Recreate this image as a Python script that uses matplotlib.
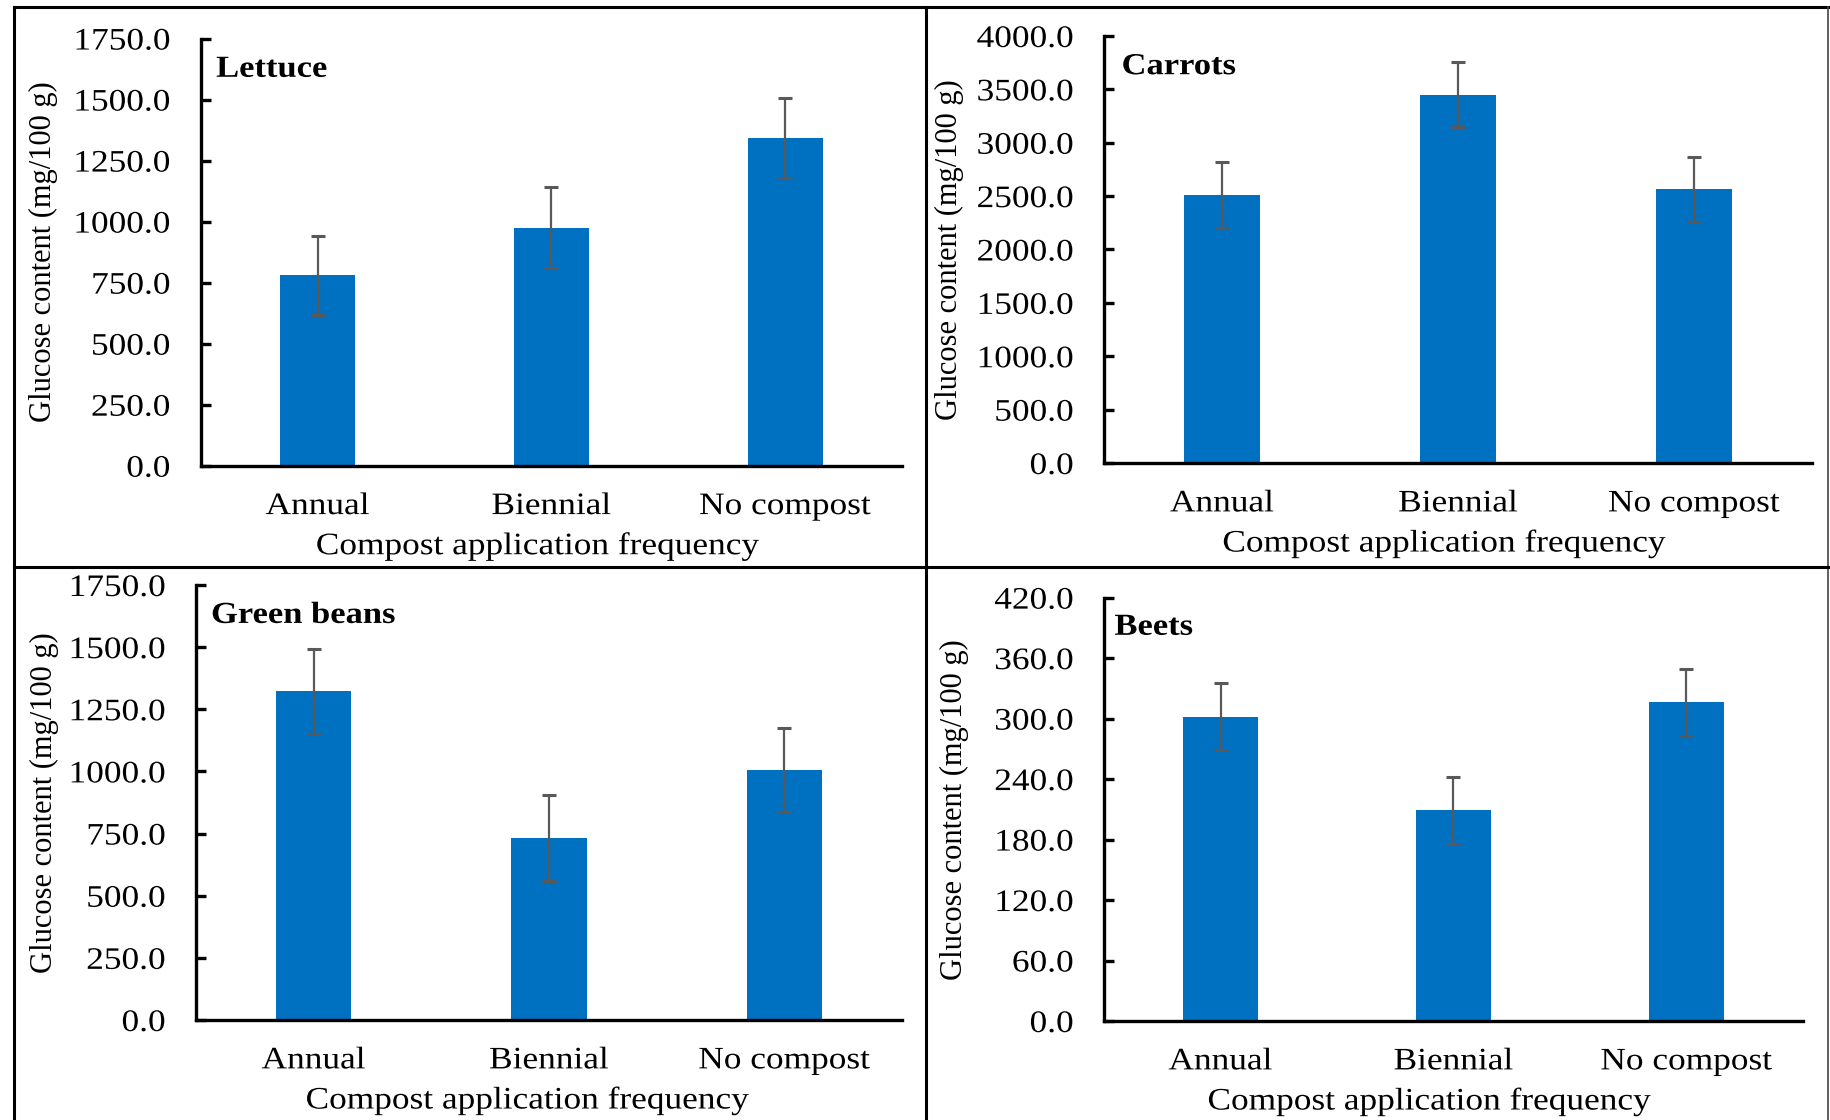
import matplotlib
matplotlib.use("Agg")
import matplotlib.pyplot as plt
from matplotlib.lines import Line2D
from matplotlib.patheffects import AbstractPathEffect
from matplotlib.transforms import Affine2D

plt.rcParams['font.family'] = ['Liberation Serif', 'DejaVu Serif']

# Data
categories = ["Annual", "Biennial", "No compost"]

lettuce_mean = [781, 975, 1342]
lettuce_err = [162, 166, 165]

carrots_mean = [2512, 3450, 2562]
carrots_err = [310, 305, 308]

beans_mean = [1323, 731, 1005]
beans_err = [171, 173, 170]

beets_mean = [302, 209, 316]
beets_err = [33, 33, 33.5]

panels = [
    ("Lettuce", lettuce_mean, lettuce_err, 1750, 250),
    ("Carrots", carrots_mean, carrots_err, 4000, 500),
    ("Green beans", beans_mean, beans_err, 1750, 250),
    ("Beets", beets_mean, beets_err, 420, 60),
]

# layout per panel: axes rect, title pos, ylabel x, xlabel x (axes fraction)
rects = [
    [0.1097, 0.5842, 0.3832, 0.3814],
    [0.6033, 0.5866, 0.3869, 0.3813],
    [0.1071, 0.0893, 0.3858, 0.3884],
    [0.6033, 0.0884, 0.3819, 0.3780],
]
title_pos = [(0.022, 0.928), (0.025, 0.928), (0.0215, 0.93), (0.015, 0.93)]
ylabel_x = [-0.2035, -0.1977, -0.194, -0.193]
xlabel_x = [0.481, 0.481, 0.470, 0.466]


class Widen(AbstractPathEffect):
    """the source text is a bit wider than plain Times, stretch it"""
    def __init__(self, sx=1.13, anchor="center"):
        super().__init__()
        self.sx = sx
        self.anchor = anchor

    def draw_path(self, renderer, gc, tpath, affine, rgbFace=None):
        ext = tpath.get_extents()
        x0 = {"left": ext.x0, "center": (ext.x0 + ext.x1) / 2,
              "right": ext.x1}[self.anchor]
        st = Affine2D().translate(-x0, 0).scale(self.sx, 1).translate(x0, 0)
        renderer.draw_path(gc, tpath, st + affine, rgbFace)


W, H = 1830, 1120
fig = plt.figure(figsize=(W / 100, H / 100), dpi=100)

for i, (name, mean, err, ymax, step) in enumerate(panels):
    ax = fig.add_axes(rects[i])
    x = range(len(categories))
    ax.bar(x, mean, width=0.32, color="#0070C0", zorder=2)
    ax.errorbar(x, mean, yerr=err, fmt="none", ecolor="#595959",
                elinewidth=1.6, capsize=4.7, capthick=2.2, zorder=3)
    ax.set_xlim(-0.5, 2.5)
    ax.set_ylim(0, ymax)
    ax.set_yticks([k * step for k in range(int(round(ymax / step)) + 1)])
    ax.yaxis.set_major_formatter(plt.FormatStrFormatter("%.1f"))
    ax.set_xticks(list(x))
    ax.set_xticklabels(categories)
    for side in ("top", "right"):
        ax.spines[side].set_visible(False)
    for side in ("left", "bottom"):
        ax.spines[side].set_linewidth(2.4)
    ax.tick_params(axis="y", direction="in", length=7, width=2.4,
                   labelsize=22.5, pad=22)
    ax.tick_params(axis="x", length=0, labelsize=22.5, pad=19)
    for lbl in ax.get_yticklabels():
        lbl.set_path_effects([Widen(anchor="right")])
    for lbl in ax.get_xticklabels():
        lbl.set_path_effects([Widen()])

    ax.set_xlabel("Compost application frequency", fontsize=22.5, labelpad=8,
                  path_effects=[Widen()])
    ax.xaxis.label.set_x(xlabel_x[i])
    ax.set_ylabel("Glucose content (mg/100 g)", fontsize=22)
    ax.yaxis.set_label_coords(ylabel_x[i], 0.5)

    ax.text(title_pos[i][0], title_pos[i][1], name, transform=ax.transAxes,
            fontsize=22, fontweight="bold", va="center", ha="left",
            path_effects=[Widen(anchor="left")])


# panel frame lines
def fline(x0, y0, x1, y1, lw=2.2, color="black"):
    fig.add_artist(Line2D([x0 / W, x1 / W], [1 - y0 / H, 1 - y1 / H],
                          color=color, lw=lw, transform=fig.transFigure))


fline(14, 7, 1828, 7)
fline(14, 7, 14, 1120)
fline(1828, 7, 1828, 1120, lw=1.2, color="#444444")
fline(925.7, 7, 925.7, 1120)
fline(14, 566.7, 1828, 566.7)

fig.savefig("out.png", dpi=100)
